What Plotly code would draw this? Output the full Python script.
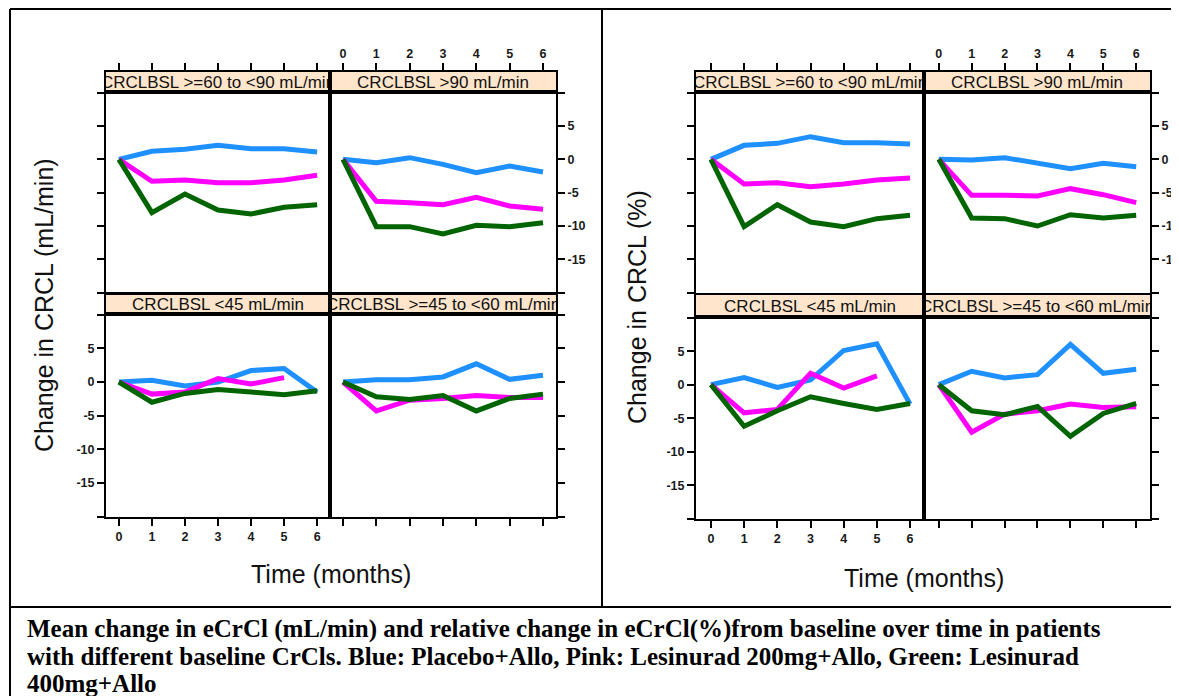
import plotly.graph_objects as go

W, H = 1179, 696
OFF = 8                      # page body margin in the browser
FW, FH = W - OFF, H - OFF    # figure size so that it fills the window exactly

# ---------------- data ----------------
months = [0, 1, 2, 3, 4, 5, 6]
months_to5 = [0, 1, 2, 3, 4, 5]
x_ticks = [0, 1, 2, 3, 4, 5, 6]
y_ticks = [-20, -15, -10, -5, 0, 5, 10]
y_ticktext = ["", "-15", "-10", "-5", "0", "5", ""]

strip_labels = ["CRCLBSL >=60 to <90 mL/min", "CRCLBSL >90 mL/min",
                "CRCLBSL <45 mL/min", "CRCLBSL >=45 to <60 mL/min"]
series_names = ["Placebo+Allo", "Lesinurad 200mg+Allo", "Lesinurad 400mg+Allo"]

# Change in CRCL (mL/min)
ml_6090_placebo = [0, 1.2, 1.5, 2.1, 1.6, 1.6, 1.1]
ml_6090_les200 = [0, -3.3, -3.1, -3.5, -3.5, -3.1, -2.4]
ml_6090_les400 = [0, -8.0, -5.2, -7.6, -8.2, -7.2, -6.8]
ml_gt90_placebo = [0, -0.5, 0.25, -0.75, -2.0, -1.0, -1.9]
ml_gt90_les200 = [0, -6.3, -6.5, -6.8, -5.7, -7.0, -7.5]
ml_gt90_les400 = [0, -10.1, -10.1, -11.2, -9.9, -10.1, -9.5]
ml_lt45_placebo = [0, 0.25, -0.6, 0.0, 1.7, 2.0, -1.5]
ml_lt45_les200 = [0, -1.8, -1.5, 0.5, -0.3, 0.65]
ml_lt45_les400 = [0, -3.0, -1.7, -1.1, -1.5, -1.9, -1.3]
ml_4560_placebo = [0, 0.35, 0.35, 0.75, 2.7, 0.4, 1.0]
ml_4560_les200 = [0, -4.3, -2.7, -2.45, -2.0, -2.3, -2.3]
ml_4560_les400 = [0, -2.2, -2.6, -2.0, -4.3, -2.45, -1.8]

# Change in CRCL (%)
pct_6090_placebo = [0, 2.1, 2.4, 3.4, 2.5, 2.5, 2.3]
pct_6090_les200 = [0, -3.7, -3.5, -4.1, -3.7, -3.1, -2.8]
pct_6090_les400 = [0, -10.1, -6.8, -9.4, -10.1, -8.9, -8.4]
pct_gt90_placebo = [0, -0.1, 0.25, -0.5, -1.4, -0.6, -1.1]
pct_gt90_les200 = [0, -5.4, -5.4, -5.5, -4.4, -5.3, -6.5]
pct_gt90_les400 = [0, -8.8, -8.9, -10.0, -8.3, -8.8, -8.4]
pct_lt45_placebo = [0, 1.05, -0.4, 0.7, 5.1, 6.1, -2.9]
pct_lt45_les200 = [0, -4.2, -3.7, 1.7, -0.5, 1.3]
pct_lt45_les400 = [0, -6.2, -3.9, -1.8, -2.8, -3.7, -2.8]
pct_4560_placebo = [0, 2.0, 1.0, 1.5, 6.0, 1.7, 2.3]
pct_4560_les200 = [0, -7.1, -4.4, -3.9, -2.9, -3.4, -3.3]
pct_4560_les400 = [0, -3.9, -4.5, -3.25, -7.7, -4.3, -2.8]

colors = ["#1E90FF", "#FF00FF", "#006400"]

# panels in order: top-left, top-right, bottom-left, bottom-right
charts_data = [
    [
        [(months, ml_6090_placebo), (months, ml_6090_les200), (months, ml_6090_les400)],
        [(months, ml_gt90_placebo), (months, ml_gt90_les200), (months, ml_gt90_les400)],
        [(months, ml_lt45_placebo), (months_to5, ml_lt45_les200), (months, ml_lt45_les400)],
        [(months, ml_4560_placebo), (months, ml_4560_les200), (months, ml_4560_les400)],
    ],
    [
        [(months, pct_6090_placebo), (months, pct_6090_les200), (months, pct_6090_les400)],
        [(months, pct_gt90_placebo), (months, pct_gt90_les200), (months, pct_gt90_les400)],
        [(months, pct_lt45_placebo), (months_to5, pct_lt45_les200), (months, pct_lt45_les400)],
        [(months, pct_4560_placebo), (months, pct_4560_les200), (months, pct_4560_les400)],
    ],
]

# ---------------- geometry (window pixels) ----------------
charts_geom = [
    dict(cols=[(106, 330), (330, 556)], rows=[(72, 92, 293), (294, 314, 517)],
         xr=[-0.39, 6.39], yr=[[-20.05, 10.1], [-20.05, 10.1]]),
    dict(cols=[(696, 924), (924, 1150)], rows=[(72, 92, 293), (295, 317, 519)],
         xr=[-0.45, 6.42], yr=[[-20.05, 10.1], [-20.05, 10.1]]),
]


def fx(px):
    return (px - OFF) / FW


def fy(py):
    return 1 - (py - OFF) / FH


fig = go.Figure()
layout = {}
shapes = []
annotations = []
tickfont = dict(family="Arial", size=12.5, color="#1a1a1a", weight="bold")
axis_common = dict(showline=True, linewidth=2, linecolor="black", mirror=True,
                   showgrid=False, zeroline=False, tickcolor="black",
                   tickwidth=2, ticklen=7, tickfont=tickfont, fixedrange=True)

ax_i = 0
for ci, (geom, cdata) in enumerate(zip(charts_geom, charts_data)):
    for pi in range(4):
        r, k = divmod(pi, 2)
        x0, x1 = geom["cols"][k]
        s0, p0, p1 = geom["rows"][r]
        ax_i += 1
        dax = ax_i
        ax_i += 1
        sax = ax_i
        # data panel axes
        xa = dict(axis_common, domain=[fx(x0), fx(x1)], range=geom["xr"],
                  anchor=f"y{dax}", tickvals=x_ticks)
        if r == 1:
            xa.update(side="bottom", ticks="outside", showticklabels=(k == 0))
        else:
            xa.update(ticks="", showticklabels=False)
        ya = dict(axis_common, domain=[fy(p1), fy(p0)], range=geom["yr"][r],
                  anchor=f"x{dax}", tickvals=y_ticks, ticktext=y_ticktext,
                  ticks="outside")
        if k == 0:
            ya.update(side="left", showticklabels=(r == 1))
        else:
            ya.update(side="right", showticklabels=(r == 0))
        layout[f"xaxis{dax}"] = xa
        layout[f"yaxis{dax}"] = ya

        # strip axes
        sxa = dict(axis_common, domain=[fx(x0), fx(x1)], range=geom["xr"],
                   anchor=f"y{sax}", tickvals=x_ticks)
        if r == 0:
            sxa.update(side="top", ticks="outside", showticklabels=(k == 1))
        else:
            sxa.update(ticks="", showticklabels=False)
        sya = dict(axis_common, domain=[fy(p0), fy(s0)], range=[0, 1],
                   anchor=f"x{sax}", ticks="", showticklabels=False)
        layout[f"xaxis{sax}"] = sxa
        layout[f"yaxis{sax}"] = sya

        shapes.append(dict(type="rect", xref="paper", yref="paper",
                           x0=fx(x0), x1=fx(x1), y0=fy(p0), y1=fy(s0),
                           fillcolor="#FFE5CC", line=dict(width=0), layer="below"))
        fig.add_trace(go.Scatter(
            x=[sum(geom["xr"]) / 2], y=[0.4], mode="text", text=[strip_labels[pi]],
            textfont=dict(family="Arial", size=17, color="#111111"),
            cliponaxis=True, hoverinfo="skip", showlegend=False,
            xaxis=f"x{sax}", yaxis=f"y{sax}"))

        for si, (xs, ys) in enumerate(cdata[pi]):
            fig.add_trace(go.Scatter(
                x=xs, y=ys, mode="lines", name=series_names[si],
                line=dict(color=colors[si], width=5), showlegend=False,
                xaxis=f"x{dax}", yaxis=f"y{dax}"))


# table borders
def pline(xa, ya, xb, yb):
    shapes.append(dict(type="line", xref="paper", yref="paper",
                       x0=fx(xa), y0=fy(ya), x1=fx(xb), y1=fy(yb),
                       line=dict(color="black", width=2)))


pline(10, 9, W, 9)
pline(10, 9, 10, H)
pline(602, 9, 602, 607)
pline(10, 607, W, 607)

title_font = dict(family="Arial", size=25, color="#111111")
annotations += [
    dict(text="Change in CRCL (mL/min)", x=fx(44), y=fy(305), xref="paper", yref="paper",
         textangle=-90, showarrow=False, font=title_font, xanchor="center", yanchor="middle"),
    dict(text="Change in CRCL (%)", x=fx(637), y=fy(307), xref="paper", yref="paper",
         textangle=-90, showarrow=False, font=title_font, xanchor="center", yanchor="middle"),
    dict(text="Time (months)", x=fx(331), y=fy(574), xref="paper", yref="paper",
         showarrow=False, font=title_font, xanchor="center", yanchor="middle"),
    dict(text="Time (months)", x=fx(924), y=fy(578), xref="paper", yref="paper",
         showarrow=False, font=title_font, xanchor="center", yanchor="middle"),
]

caption_lines = [
    "Mean change in eCrCl (mL/min) and relative change in eCrCl(%)from baseline over time in patients",
    "with different baseline CrCls. Blue: Placebo+Allo, Pink: Lesinurad 200mg+Allo, Green: Lesinurad",
    "400mg+Allo",
]
caption_y = [629, 656, 683]
for line, cy in zip(caption_lines, caption_y):
    annotations.append(dict(text=line, x=fx(25), y=fy(cy), xref="paper", yref="paper",
                            showarrow=False, xanchor="left", yanchor="middle",
                            font=dict(family="Liberation Serif", size=25, color="black",
                                      weight="bold")))

fig.update_layout(
    width=FW, height=FH, autosize=False,
    margin=dict(l=0, r=0, t=0, b=0, pad=0),
    paper_bgcolor="white", plot_bgcolor="rgba(0,0,0,0)",
    shapes=shapes, annotations=annotations, showlegend=False,
    **layout,
)

fig.write_html("out.html")
